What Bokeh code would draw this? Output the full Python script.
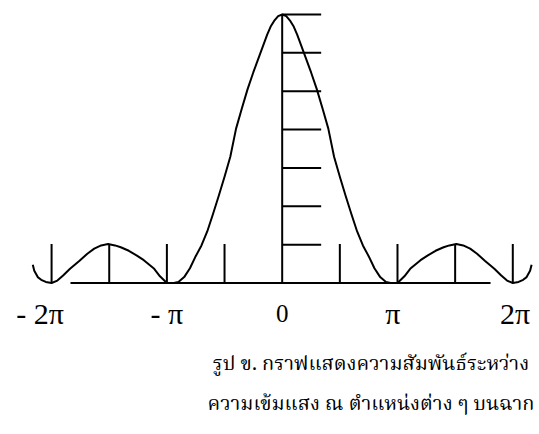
from bokeh.plotting import figure
from bokeh.models import Range1d, ColumnDataSource
from bokeh.core.properties import value
from bokeh.embed import file_html
from bokeh.resources import INLINE

# Phase position (in units of pi) and relative light intensity along the screen
phase = [-2.163, -2.15, -2.12, -2.09, -2.05, -2.00, -1.95, -1.90, -1.84, -1.76,
         -1.69, -1.63, -1.57, -1.51, -1.45, -1.40, -1.33, -1.26, -1.20, -1.11,
         -1.06, -1.00, -0.94, -0.90, -0.85, -0.80, -0.75, -0.70, -0.65, -0.60,
         -0.55, -0.50, -0.45, -0.40, -0.35, -0.30, -0.25, -0.19, -0.13, -0.10,
         -0.07, -0.035,
         0.00,
         0.035, 0.07, 0.10, 0.13, 0.19, 0.25, 0.30, 0.35, 0.40, 0.45,
         0.50, 0.55, 0.60, 0.65, 0.70, 0.75, 0.80, 0.85, 0.90, 0.94,
         1.00, 1.06, 1.11, 1.20, 1.26, 1.33, 1.40, 1.45, 1.51, 1.57,
         1.63, 1.69, 1.76, 1.84, 1.90, 1.95, 2.00, 2.05, 2.09, 2.12,
         2.15, 2.163]
intensity = [0.068, 0.046, 0.022, 0.012, 0.004, 0.000, 0.009, 0.028, 0.053, 0.082,
             0.109, 0.128, 0.140, 0.145, 0.140, 0.133, 0.120, 0.102, 0.085, 0.053,
             0.025, 0.000, 0.000, 0.004, 0.022, 0.055, 0.100, 0.140, 0.192, 0.257,
             0.325, 0.396, 0.470, 0.575, 0.650, 0.722, 0.785, 0.855, 0.925, 0.955,
             0.976, 0.994,
             1.000,
             0.994, 0.976, 0.955, 0.925, 0.855, 0.785, 0.722, 0.650, 0.575, 0.470,
             0.396, 0.325, 0.257, 0.192, 0.140, 0.100, 0.055, 0.022, 0.004, 0.000,
             0.000, 0.025, 0.053, 0.085, 0.102, 0.120, 0.133, 0.140, 0.145, 0.140,
             0.128, 0.109, 0.082, 0.053, 0.028, 0.009, 0.000, 0.004, 0.012, 0.022,
             0.046, 0.068]

# Short vertical markers along the phase axis (units of pi)
phase_marks = [-2.0, -1.5, -1.0, -0.5, 0.5, 1.0, 1.5, 2.0]
phase_mark_height = 0.145

# Horizontal scale marks on the intensity axis
intensity_marks = [1/7, 2/7, 3/7, 4/7, 5/7, 6/7, 1.0]
intensity_mark_length = 0.338

# Axis labels along the phase axis
pi_label_pos = [-2.1, -1.0, 0.96, 2.02]
pi_label_text = ["- 2\u03c0", "- \u03c0", "\u03c0", "2\u03c0"]
zero_label_pos = [0.0]
zero_label_text = ["0"]

baseline_span = [-1.836, 1.807]

caption_lines = ["รูป ข. กราฟแสดงความสัมพันธ์ระหว่าง",
                 "ความเข้มแสง ณ ตำแหน่งต่าง ๆ บนฉาก"]

thai_font = "Norasi, 'TH Sarabun New', 'Noto Serif Thai', 'Noto Sans Thai', 'Liberation Serif', serif"

p = figure(width=539, height=434, output_backend="svg", toolbar_location=None,
           x_range=Range1d(-2.443, 2.2316), y_range=Range1d(-0.5642, 1.0521),
           min_border=0)
p.axis.visible = False
p.grid.visible = False
p.outline_line_color = None
p.background_fill_color = "white"
p.border_fill_color = "white"

ink = "black"
lw = 2

# baseline and the central intensity axis
p.line(baseline_span, [0, 0], line_color=ink, line_width=lw)
p.line([0, 0], [0, 1.0], line_color=ink, line_width=lw)

# vertical phase markers
p.segment(x0=phase_marks, y0=[0] * len(phase_marks),
          x1=phase_marks, y1=[phase_mark_height] * len(phase_marks),
          line_color=ink, line_width=lw)

# horizontal intensity markers
p.segment(x0=[0] * len(intensity_marks), y0=intensity_marks,
          x1=[intensity_mark_length] * len(intensity_marks), y1=intensity_marks,
          line_color=ink, line_width=lw)

# intensity curve
p.line(phase, intensity, line_color=ink, line_width=lw, line_join="round")

# phase labels
src = ColumnDataSource(dict(x=pi_label_pos, y=[-0.112] * len(pi_label_pos), t=pi_label_text))
p.text(x="x", y="y", text="t", source=src, text_align="center",
       text_baseline="alphabetic", text_font=value("Liberation Serif"),
       text_font_size="30px", text_color=ink)
zsrc = ColumnDataSource(dict(x=zero_label_pos, y=[-0.114], t=zero_label_text))
p.text(x="x", y="y", text="t", source=zsrc, text_align="center",
       text_baseline="alphabetic", text_font=value("Liberation Serif"),
       text_font_size="25px", text_color=ink)

# caption
cap = ColumnDataSource(dict(x=[0.77, 0.77], y=[-0.306, -0.455], t=caption_lines))
p.text(x="x", y="y", text="t", source=cap, text_align="center",
       text_baseline="alphabetic", text_font=value(thai_font),
       text_font_size="20px", text_color=ink)

open("out.html", "w").write(file_html(p, INLINE))
